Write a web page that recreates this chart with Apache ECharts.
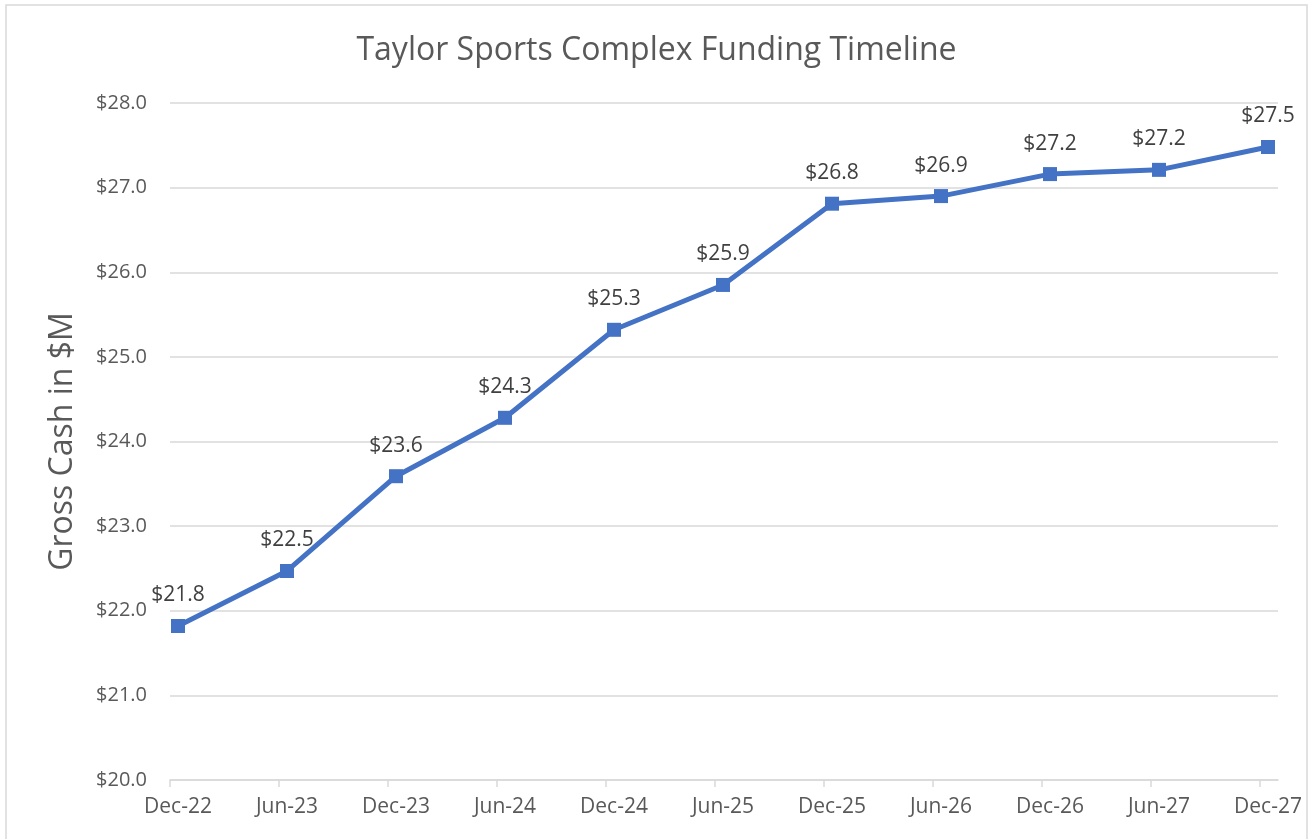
<!DOCTYPE html>
<html><head><meta charset="utf-8">
<script src="https://cdn.jsdelivr.net/npm/echarts@6/dist/echarts.min.js"></script>
<style>html,body{margin:0;padding:0;background:#fff}#c{width:1313px;height:839px}</style>
</head><body><div id="c"></div>
<script>
const categories = ['Dec-22','Jun-23','Dec-23','Jun-24','Dec-24','Jun-25','Dec-25','Jun-26','Dec-26','Jun-27','Dec-27'];
const grossCash = [21.82, 22.47, 23.59, 24.28, 25.32, 25.85, 26.81, 26.90, 27.16, 27.21, 27.48];
const yTicks = [20, 21, 22, 23, 24, 25, 26, 27, 28];
const titleText = 'Taylor Sports Complex Funding Timeline';
const yName = 'Gross Cash in $M';

const leftPad = 8/109, rightPad = 10/109;
const tickVals = categories.map((c, i) => i - leftPad);
const chart = echarts.init(document.getElementById('c'));
chart.setOption({
  animation: false,
  title: { text: titleText, left: 'center', top: 30,
    textStyle: { fontFamily: 'Open Sans', fontSize: 32, fontWeight: 'normal', color: '#595959' } },
  graphic: [{ type: 'rect', shape: { x: 6, y: 5, width: 1301, height: 850 },
    style: { fill: 'none', stroke: '#d9d9d9', lineWidth: 1.5 } }],
  grid: { left: 170, right: 1313 - 1278, top: 103, bottom: 839 - 780, containLabel: false },
  xAxis: {
    type: 'value', min: -leftPad, max: categories.length - 1 + rightPad,
    splitLine: { show: false },
    axisLine: { show: true, lineStyle: { color: '#d9d9d9', width: 1.5 } },
    axisTick: { show: true, length: 7, lineStyle: { color: '#d9d9d9', width: 1.5 }, customValues: tickVals },
    axisLabel: { customValues: categories.map((c, i) => i), formatter: v => categories[Math.round(v)],
      margin: 17, fontFamily: 'Open Sans', fontSize: 21, color: '#595959' }
  },
  yAxis: {
    type: 'value', min: yTicks[0], max: yTicks[yTicks.length - 1], interval: 1,
    name: yName, nameLocation: 'middle', nameGap: 91, nameRotate: 90,
    nameTextStyle: { fontFamily: 'Open Sans', fontSize: 32, color: '#595959' },
    axisLine: { show: false }, axisTick: { show: false },
    axisLabel: { formatter: v => '$' + v.toFixed(1), margin: 23, fontFamily: 'Open Sans', fontSize: 20, color: '#595959' },
    splitLine: { lineStyle: { color: '#d9d9d9', width: 1.5 } }
  },
  series: [{
    type: 'line', data: grossCash.map((v, i) => [i, v]),
    symbol: 'rect', symbolSize: 14,
    lineStyle: { color: '#4472C4', width: 5 },
    itemStyle: { color: '#4472C4' },
    label: { show: true, position: 'top', distance: 13, formatter: p => '$' + p.value[1].toFixed(1),
      fontFamily: 'Open Sans', fontSize: 21, color: '#404040' }
  }]
});
</script></body></html>
